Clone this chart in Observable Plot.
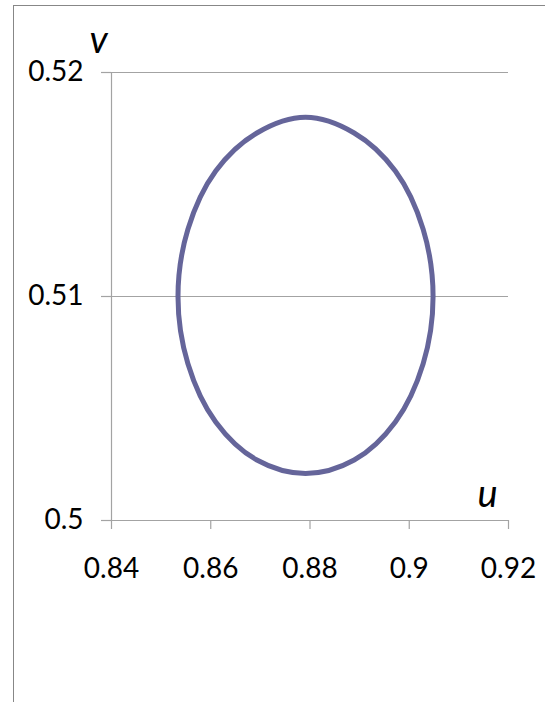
<!DOCTYPE html>
<html>
<head>
<meta charset="utf-8">
<script src="https://cdn.jsdelivr.net/npm/d3@7"></script>
<script src="https://cdn.jsdelivr.net/npm/@observablehq/plot@0.6"></script>
<style>
  html, body { margin: 0; padding: 0; background: #fff; overflow: hidden; }
  #wrap { position: relative; width: 545px; height: 702px; }
  #border {
    position: absolute; left: 13px; top: 5px; width: 700px; height: 900px;
    border-left: 1.6px solid #878787; border-top: 1.6px solid #878787;
    pointer-events: none;
  }
  #chart { position: absolute; left: 0; top: 0; }
</style>
</head>
<body>
<div id="wrap">
  <div id="border"></div>
  <div id="chart"></div>
</div>
<script>
// Outline of the (u, v) region, traced around the closed curve
const u = [0.9048, 0.9028, 0.8972, 0.8889, 0.8791, 0.8693, 0.8610, 0.8554,
           0.8534, 0.8554, 0.8610, 0.8693, 0.8791, 0.8889, 0.8972, 0.9028];
const v = [0.5100, 0.5130, 0.5156, 0.5173, 0.5180, 0.5173, 0.5156, 0.5130,
           0.5100, 0.5070, 0.5044, 0.5027, 0.5021, 0.5027, 0.5044, 0.5070];

const xTicks = [0.84, 0.86, 0.88, 0.9, 0.92];
const yTicks = [0.5, 0.51, 0.52];
const yGrid = [0.51, 0.52];
const xLabel = "u";
const yLabel = "v";

const outline = u.map((d, i) => ({u: d, v: v[i]}));

const font = "Lato, 'Open Sans', sans-serif";
const axisGray = "#a3a3a3";

const chart = Plot.plot({
  width: 545,
  height: 702,
  marginLeft: 111,
  marginRight: 37,
  marginTop: 72,
  marginBottom: 182,
  style: {fontFamily: font, background: "transparent", overflow: "visible"},
  x: {domain: [xTicks[0], xTicks[xTicks.length - 1]]},
  y: {domain: [yTicks[0], yTicks[yTicks.length - 1]]},
  marks: [
    Plot.ruleY(yGrid, {stroke: axisGray, strokeWidth: 1.2, strokeOpacity: 1}),
    Plot.ruleY([yTicks[0]], {stroke: axisGray, strokeWidth: 1.2, strokeOpacity: 1}),
    Plot.ruleX([xTicks[0]], {stroke: axisGray, strokeWidth: 1.2, strokeOpacity: 1}),
    Plot.axisX({
      ticks: xTicks, tickFormat: d => String(d), tickSize: 9, tickPadding: 29,
      stroke: axisGray, strokeWidth: 1.2, strokeOpacity: 1,
      fontSize: 28, fill: "#000", label: null,
      letterSpacing: "1px"
    }),
    Plot.axisY({
      ticks: yTicks, tickFormat: d => String(d), tickSize: 10, tickPadding: 18,
      stroke: axisGray, strokeWidth: 1.2, strokeOpacity: 1,
      fontSize: 28, fill: "#000", label: null,
      letterSpacing: "1px"
    }),
    Plot.line(outline, {
      x: "u", y: "v", curve: "catmull-rom-closed",
      stroke: "#65659a", strokeWidth: 5
    }),
    Plot.text([yLabel], {
      frameAnchor: "top-left", textAnchor: "middle", lineAnchor: "middle",
      dx: -13, dy: -32,
      fontSize: 38, fontStyle: "italic", fill: "#000", fontFamily: font
    }),
    Plot.text([xLabel], {
      frameAnchor: "bottom-right", textAnchor: "middle", lineAnchor: "middle",
      dx: -21, dy: -26,
      fontSize: 38, fontStyle: "italic", fill: "#000", fontFamily: font
    })
  ]
});

document.getElementById("chart").appendChild(chart);
</script>
</body>
</html>
